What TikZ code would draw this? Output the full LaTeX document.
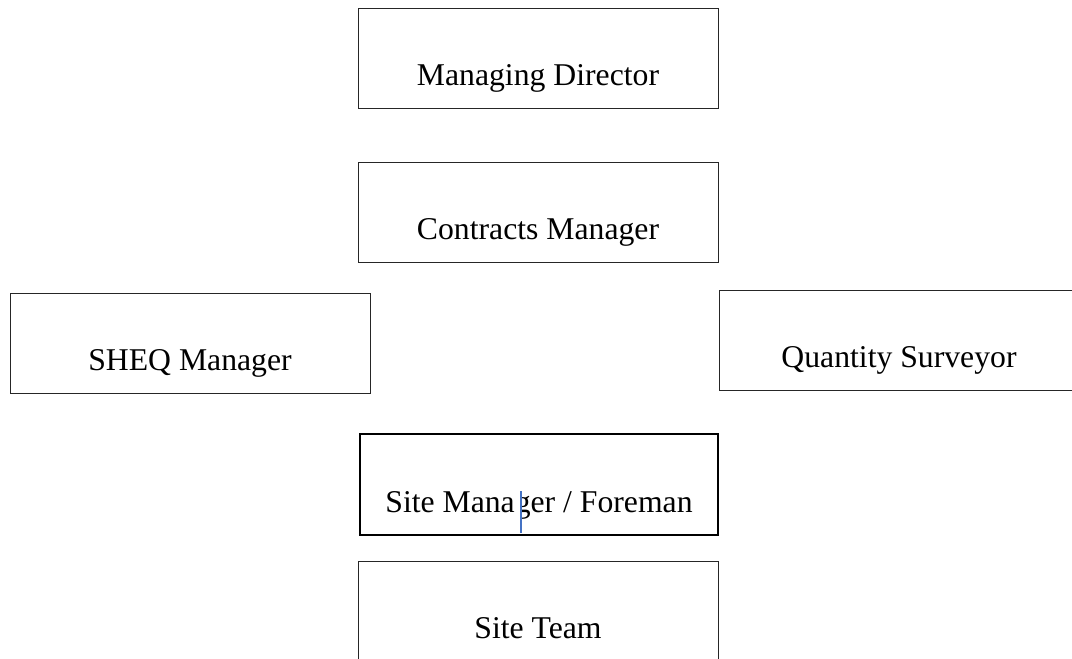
\documentclass[tikz,border=0pt]{standalone}
\usepackage{fontspec}
\setmainfont{Liberation Serif}
\begin{document}
\begin{tikzpicture}[x=1pt,y=-1pt,
  orgbox/.style={draw=black!85, line width=1pt, rectangle, inner sep=0pt, outer sep=0pt,
    minimum width=360pt, text height=77pt, text depth=23pt, anchor=north west,
    font=\fontsize{31.7}{36}\selectfont, align=center},
  cursorline/.style={draw={rgb,255:red,68;green,114;blue,196}, line width=1.3pt}]
\useasboundingbox (0,0) rectangle (1072,659);
\begin{scope}
\clip (0,0) rectangle (1072,659);
\node[orgbox] (md) at (358,8) {Managing Director};
\node[orgbox] (cm) at (358,162) {Contracts Manager};
\node[orgbox] (sheq) at (10,293) {SHEQ Manager};
\node[orgbox] (qs) at (719,290) {Quantity Surveyor};
\node[orgbox, line width=2pt, draw=black, minimum width=358pt, text height=78pt] (smf) at (360,434) {Site Manager / Foreman};
\node[orgbox] (st) at (358,561) {Site Team};
\coordinate (curtop) at (521,491);
\coordinate (curbot) at (521,533);
\fill[white] (514.8,488) rectangle (520.5,530);
\draw[cursorline] (curtop) -- (curbot);
\end{scope}
\end{tikzpicture}
\end{document}
